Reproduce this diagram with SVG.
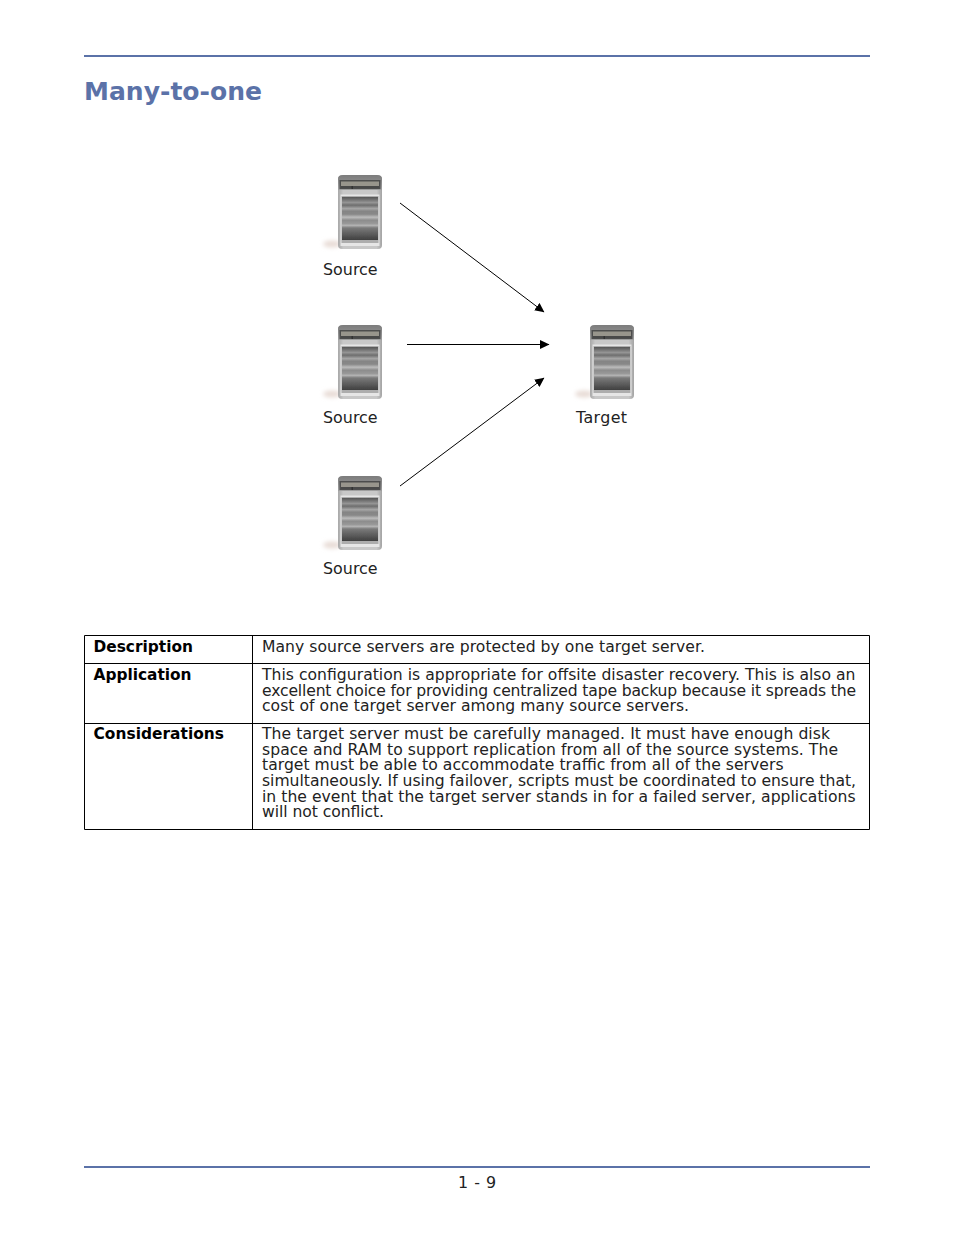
<svg xmlns="http://www.w3.org/2000/svg" width="954" height="1235" viewBox="0 0 954 1235">
<style>
text{font-family:"DejaVu Sans",Verdana,sans-serif;fill:#222;font-size:15.6px}
.l{font-size:15.9px}
.b{font-weight:bold;fill:#000;font-size:15.4px}
.t{font-size:25.1px;font-weight:bold;fill:#5b72a8}
.r{stroke:#5b72a8;stroke-width:2;fill:none}
.g{stroke:#000;stroke-width:1;fill:none}
.c{stroke:#000;stroke-width:1;fill:none;marker-end:url(#a)}
</style>
<defs>
<marker id="a" markerUnits="userSpaceOnUse" markerWidth="10" markerHeight="10" refX="9" refY="4.5" orient="auto"><path d="M0 0L9.500 4.500L0 9Z" fill="#000"/></marker>
<filter id="soft" x="-10%" y="-10%" width="120%" height="120%"><feGaussianBlur stdDeviation="0.6"/></filter>
<filter id="softer" x="-30%" y="-60%" width="160%" height="220%"><feGaussianBlur stdDeviation="2"/></filter>
<linearGradient id="body" x1="0" x2="1" y1="0" y2="0"><stop offset="0" stop-color="#a8a8a8"/><stop offset=".12" stop-color="#c8c8c8"/><stop offset=".88" stop-color="#c8c8c8"/><stop offset="1" stop-color="#a4a4a4"/></linearGradient>
<linearGradient id="top" x1="0" x2="0" y1="0" y2="1"><stop offset="0" stop-color="#7c7c7c"/><stop offset=".5" stop-color="#8c8c8c"/><stop offset="1" stop-color="#a0a0a0"/></linearGradient>
<linearGradient id="bay" x1="0" x2="0" y1="0" y2="1">
<stop offset="0" stop-color="#555"/><stop offset=".07" stop-color="#777"/><stop offset=".13" stop-color="#959595"/><stop offset=".19" stop-color="#6e6e6e"/><stop offset=".27" stop-color="#a6a6a6"/><stop offset=".33" stop-color="#858585"/><stop offset=".4" stop-color="#888"/><stop offset=".47" stop-color="#bcbcbc"/><stop offset=".54" stop-color="#8c8c8c"/><stop offset=".62" stop-color="#999"/><stop offset=".66" stop-color="#b4b4b4"/><stop offset=".72" stop-color="#7a7a7a"/><stop offset="1" stop-color="#404040"/></linearGradient>
<g id="server">
<ellipse cx="-6" cy="69" rx="9" ry="3.500" fill="#e8dcd6" filter="url(#softer)"/>
<g filter="url(#soft)">
<path d="M0 4Q0 0 5 0H39Q44 0 44 4V70Q44 74 40 74H4Q0 74 0 70Z" fill="url(#body)"/>
<path d="M0 4Q0 0 5 0H39Q44 0 44 4V15H0Z" fill="url(#top)"/>
<rect x="1.500" y="5" width="41" height="9" fill="#4e4e4e"/>
<rect x="3" y="6.500" width="38" height="4.500" fill="#98958c"/>
<rect x="3" y="11.500" width="38" height="1" fill="#444"/>
<rect x="13.500" y="11" width="1.500" height="3" fill="#333"/>
<rect x="2.500" y="19.500" width="39" height="51.500" fill="#e6e6e6"/>
<rect x="3.500" y="21" width="37" height="47" fill="#adadad"/>
<rect x="4" y="22" width="36" height="43" fill="url(#bay)"/>
</g>
</g>
</defs>
<path class="r" d="M84 56H870"/>
<text class="t" x="84" y="100" textLength="178" lengthAdjust="spacingAndGlyphs">Many-to-one</text>
<g id="source-1"><use href="#server" x="338" y="175"/><text class="l" x="323" y="275">Source</text></g>
<g id="source-2"><use href="#server" x="338" y="325"/><text class="l" x="323" y="423">Source</text></g>
<g id="source-3"><use href="#server" x="338" y="476"/><text class="l" x="323" y="574">Source</text></g>
<g id="target"><use href="#server" x="590" y="325"/><text class="l" x="576" y="423" textLength="51">Target</text></g>
<g id="connectors">
<path class="c" d="M400 203L544 312"/>
<path class="c" d="M407 344.500H549"/>
<path class="c" d="M400 486L544 378"/>
</g>
<g id="table">
<path class="g" d="M84.500 635.500H869.500V829.500H84.500ZM84.500 663.500H869.500M84.500 723.500H869.500M252.500 635.500V829.500"/>
<text class="b" x="93.500" y="652" textLength="99.500">Description</text>
<text class="b" x="93.500" y="680" textLength="98">Application</text>
<text class="b" x="93.500" y="739" textLength="130.500">Considerations</text>
<text x="262" y="652" textLength="443">Many source servers are protected by one target server.</text>
<text x="262" y="680" textLength="593.500">This configuration is appropriate for offsite disaster recovery. This is also an</text>
<text x="262" y="696" textLength="594">excellent choice for providing centralized tape backup because it spreads the</text>
<text x="262" y="711" textLength="427">cost of one target server among many source servers.</text>
<text x="262" y="739" textLength="568">The target server must be carefully managed. It must have enough disk</text>
<text x="262" y="755" textLength="576">space and RAM to support replication from all of the source systems. The</text>
<text x="262" y="770" textLength="521.500">target must be able to accommodate traffic from all of the servers</text>
<text x="262" y="786" textLength="594">simultaneously. If using failover, scripts must be coordinated to ensure that,</text>
<text x="262" y="802" textLength="593.500">in the event that the target server stands in for a failed server, applications</text>
<text x="262" y="817" textLength="122">will not conflict.</text>
</g>
<path class="r" d="M84 1167H870"/>
<text class="l" x="458" y="1188" textLength="38">1 - 9</text>
</svg>
